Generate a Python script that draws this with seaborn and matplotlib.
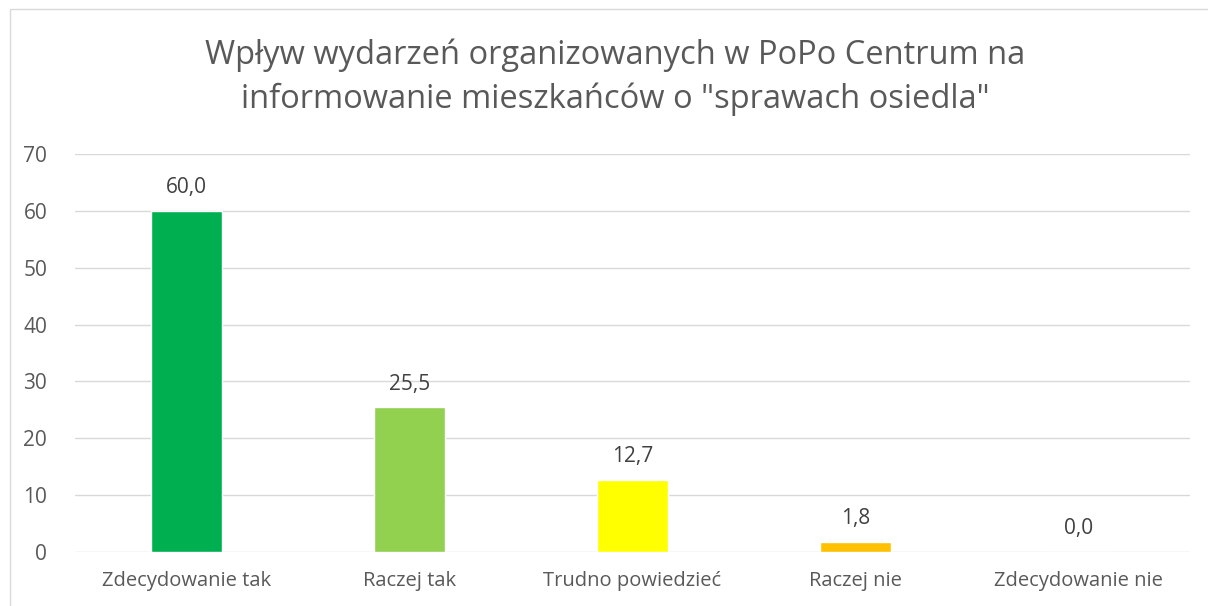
import matplotlib
matplotlib.use("Agg")
import matplotlib.pyplot as plt
import seaborn as sns
import pandas as pd
from matplotlib.patches import Rectangle

categories = ["Zdecydowanie tak", "Raczej tak", "Trudno powiedzieć", "Raczej nie", "Zdecydowanie nie"]
values = [60.0, 25.5, 12.7, 1.8, 0.0]
colors = ["#00B050", "#92D050", "#FFFF00", "#FFC000", "#FF0000"]
yticks = [0, 10, 20, 30, 40, 50, 60, 70]
title = 'Wpływ wydarzeń organizowanych w PoPo Centrum na\ninformowanie mieszkańców o "sprawach osiedla"'

sns.set_theme(style="white")
plt.rcParams['font.family'] = ['Open Sans', 'DejaVu Sans']
txt = "#595959"

df = pd.DataFrame({"cat": categories, "val": values})

fig = plt.figure(figsize=(12.08, 6.06), dpi=100)
ax = fig.add_axes([75/1208, 1-552/606, (1190-75)/1208, (552-154)/606])

sns.barplot(data=df, x="cat", y="val", hue="cat", palette=colors, legend=False,
            width=0.315, ax=ax, saturation=1)

ax.set_ylim(0, 70)
ax.set_yticks(yticks)
ax.set_yticklabels([str(t) for t in yticks], fontsize=15, color=txt)
ax.tick_params(axis='x', labelsize=14.5, colors=txt, length=0, pad=14)
ax.tick_params(axis='y', length=0, pad=20)
for lbl in ax.get_xticklabels():
    lbl.set_color(txt)
ax.set_xlabel("")
ax.set_ylabel("")
ax.grid(axis='y', color="#D9D9D9", linewidth=1)
ax.set_axisbelow(True)
for s in ax.spines.values():
    s.set_visible(False)

for i, v in enumerate(values):
    ax.text(i, v + 2.2, f"{v:.1f}".replace(".", ","), ha="center", va="bottom",
            fontsize=15, color="#404040")

fig.text(615/1208, 1-77/606, title, ha="center", va="center", fontsize=23.5,
         color=txt, linespacing=1.42)

fig.patches.append(Rectangle((10/1208, -0.1), 1.2, 1 - 9/606 + 0.1, transform=fig.transFigure,
                             fill=False, edgecolor="#D9D9D9", linewidth=1))

fig.savefig("out.png", dpi=100)
